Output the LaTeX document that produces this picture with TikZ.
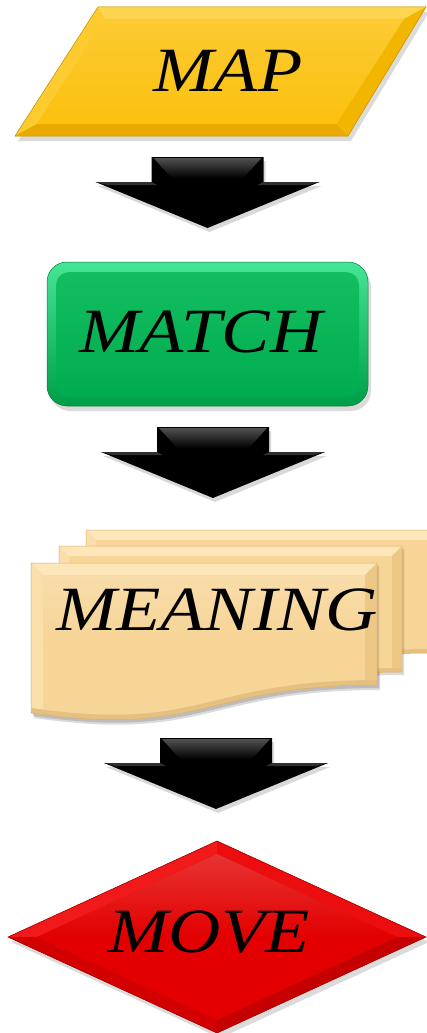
\documentclass[tikz,border=0pt]{standalone}
\usepackage{fontspec}
\newfontfamily\lblfont[FakeStretch=1.15]{Liberation Serif}
\definecolor{mapmain}{HTML}{FBC10E}
\definecolor{maptop}{HTML}{FDD550}
\definecolor{mapleft}{HTML}{FCCB30}
\definecolor{mapright}{HTML}{F2B500}
\definecolor{mapbot}{HTML}{E9AA00}
\definecolor{matchlight}{HTML}{45E596}
\definecolor{matchdark}{HTML}{009E46}
\definecolor{matchtop}{HTML}{12BE60}
\definecolor{matchbot}{HTML}{00AC4E}
\definecolor{meanmain}{HTML}{F7D597}
\definecolor{meantop}{HTML}{FCE6BA}
\definecolor{meanleft}{HTML}{FADFAA}
\definecolor{meanright}{HTML}{EDC786}
\definecolor{meanbot}{HTML}{E6C080}
\definecolor{meandark}{HTML}{D9AE68}
\definecolor{movemain}{HTML}{E20000}
\definecolor{movetl}{HTML}{F01A1A}
\definecolor{movetr}{HTML}{EC0E0E}
\definecolor{movebr}{HTML}{C40000}
\definecolor{movebl}{HTML}{D20000}
\definecolor{arrowgray}{HTML}{505050}
\begin{document}
\begin{tikzpicture}[x=1pt,y=-1pt,
  lbl/.style={font=\lblfont\itshape\fontsize{63}{70}\selectfont, text=black, inner sep=0pt, anchor=base},
  shad/.style={fill=black,opacity=0.14},
  blockarrow/.pic={
    \fill[black,opacity=0.15,shift={(2,4)}] (-56,0)--(56,0)--(56,25)--(112,25)--(0,71)--(-112,25)--(-56,25)--cycle;
    \fill[black] (-56,0)--(56,0)--(56,25)--(112,25)--(0,71)--(-112,25)--(-56,25)--cycle;
    \shade[top color=arrowgray, bottom color=black] (-54,1)--(54,1)--(36,21)--(-36,21)--cycle;
    \fill[arrowgray!60!black] (-112,25)--(-56,25)--(-50,28)--(-100,28)--cycle;
    \fill[arrowgray!60!black] (112,25)--(56,25)--(50,28)--(100,28)--cycle;
  }]
\useasboundingbox (0,0) rectangle (426,1033);

% ---------- MAP ----------
\fill[shad,shift={(3,5)}] (98,7)--(426,7)--(348,136)--(15,136)--cycle;
\fill[mapmain] (98,7)--(426,7)--(348,136)--(15,136)--cycle;
\fill[maptop] (98,7)--(426,7)--(404,19)--(104.6,19)--cycle;
\fill[mapleft] (98,7)--(104.6,19)--(37,124)--(15,136)--cycle;
\fill[mapright] (426,7)--(348,136)--(336.4,124)--(404,19)--cycle;
\fill[mapbot] (15,136)--(37,124)--(336.4,124)--(348,136)--cycle;
\shade[top color=mapmain!85!white, bottom color=mapmain] (104.6,19)--(404,19)--(336.4,124)--(37,124)--cycle;
\draw[mapright!80!black, line width=0.5] (98,7)--(426,7)--(348,136)--(15,136)--cycle;
\node[lbl] (map) at (228,92) {MAP};

\pic at (207.5,157) {blockarrow};

% ---------- MATCH ----------
\fill[shad,rounded corners=20] (50,267) rectangle (371,411);
\shade[top color=matchlight, bottom color=matchdark, rounded corners=20] (47,262) rectangle (368,406);
\shade[top color=matchtop, bottom color=matchbot, rounded corners=13] (56,272) rectangle (359,397);
\draw[matchdark!80!black, line width=0.5, rounded corners=20] (47,262) rectangle (368,406);
\node[lbl] (match) at (201,352) {MATCH};

\pic at (213,427) {blockarrow};

% ---------- MEANING ----------
\fill[shad,shift={(3,5)}] (31,563)--(377,563)--(377,685) .. controls (204,685) and (204,738) .. (31,713)--cycle;
% back page
\begin{scope}
\clip (86,530)--(430,530)--(430,653) .. controls (256,653) and (256,706) .. (86,681)--cycle;
\fill[meanmain] (0,500) rectangle (430,760);
\fill[meantop] (86,530)--(430,530)--(430,540)--(96,540)--cycle;
\fill[meanleft] (86,530)--(96,540)--(96,720)--(86,720)--cycle;
\draw[meanbot, line width=8] (430,653) .. controls (256,653) and (256,706) .. (86,681);
\end{scope}
\draw[meandark, line width=0.5] (86,530)--(430,530)--(430,653) .. controls (256,653) and (256,706) .. (86,681)--cycle;
% middle page
\fill[shad,shift={(2,3)}] (59,546)--(402,546)--(402,672) .. controls (230,672) and (230,725) .. (59,700)--cycle;
\begin{scope}
\clip (59,546)--(402,546)--(402,672) .. controls (230,672) and (230,725) .. (59,700)--cycle;
\fill[meanmain] (0,500) rectangle (430,760);
\fill[meantop] (59,546)--(402,546)--(392,556)--(69,556)--cycle;
\fill[meanleft] (59,546)--(69,556)--(69,720)--(59,720)--cycle;
\fill[meanright] (402,546)--(392,556)--(392,720)--(402,720)--cycle;
\draw[meanbot, line width=8] (402,672) .. controls (230,672) and (230,725) .. (59,700);
\end{scope}
\draw[meandark, line width=0.5] (59,546)--(402,546)--(402,672) .. controls (230,672) and (230,725) .. (59,700)--cycle;
% front page
\fill[shad,shift={(2,3)}] (31,563)--(377,563)--(377,685) .. controls (204,685) and (204,738) .. (31,713)--cycle;
\begin{scope}
\clip (31,563)--(377,563)--(377,685) .. controls (204,685) and (204,738) .. (31,713)--cycle;
\fill[meanmain] (0,500) rectangle (430,760);
\fill[meantop] (31,563)--(377,563)--(365,575)--(43,575)--cycle;
\fill[meanleft] (31,563)--(43,575)--(43,730)--(31,730)--cycle;
\fill[meanright] (377,563)--(365,575)--(365,730)--(377,730)--cycle;
\draw[meanbot, line width=10] (377,685) .. controls (204,685) and (204,738) .. (31,713);
\shade[top color=meanmain!70!white, bottom color=meanmain, opacity=0.6] (43,575) rectangle (365,640);
\end{scope}
\draw[meandark, line width=0.5] (31,563)--(377,563)--(377,685) .. controls (204,685) and (204,738) .. (31,713)--cycle;
\node[lbl] (meaning) at (217,630) {MEANING};

\pic at (216,738) {blockarrow};

% ---------- MOVE ----------
\fill[shad,shift={(3,5)}] (217,841)--(426,937)--(217,1033)--(8,937)--cycle;
\fill[movemain] (217,841)--(426,937)--(217,1033)--(8,937)--cycle;
\fill[movetl] (217,841)--(8,937)--(37,937)--(217,854)--cycle;
\fill[movetr] (217,841)--(426,937)--(397,937)--(217,854)--cycle;
\fill[movebr] (426,937)--(217,1033)--(217,1020)--(397,937)--cycle;
\fill[movebl] (8,937)--(217,1033)--(217,1020)--(37,937)--cycle;
\shade[top color=movemain!80!white, bottom color=movemain, middle color=movemain] (217,854)--(397,937)--(217,1020)--(37,937)--cycle;
\draw[movebr!80!black, line width=0.5] (217,841)--(426,937)--(217,1033)--(8,937)--cycle;
\node[lbl] (move) at (209,952) {MOVE};
\end{tikzpicture}
\end{document}
